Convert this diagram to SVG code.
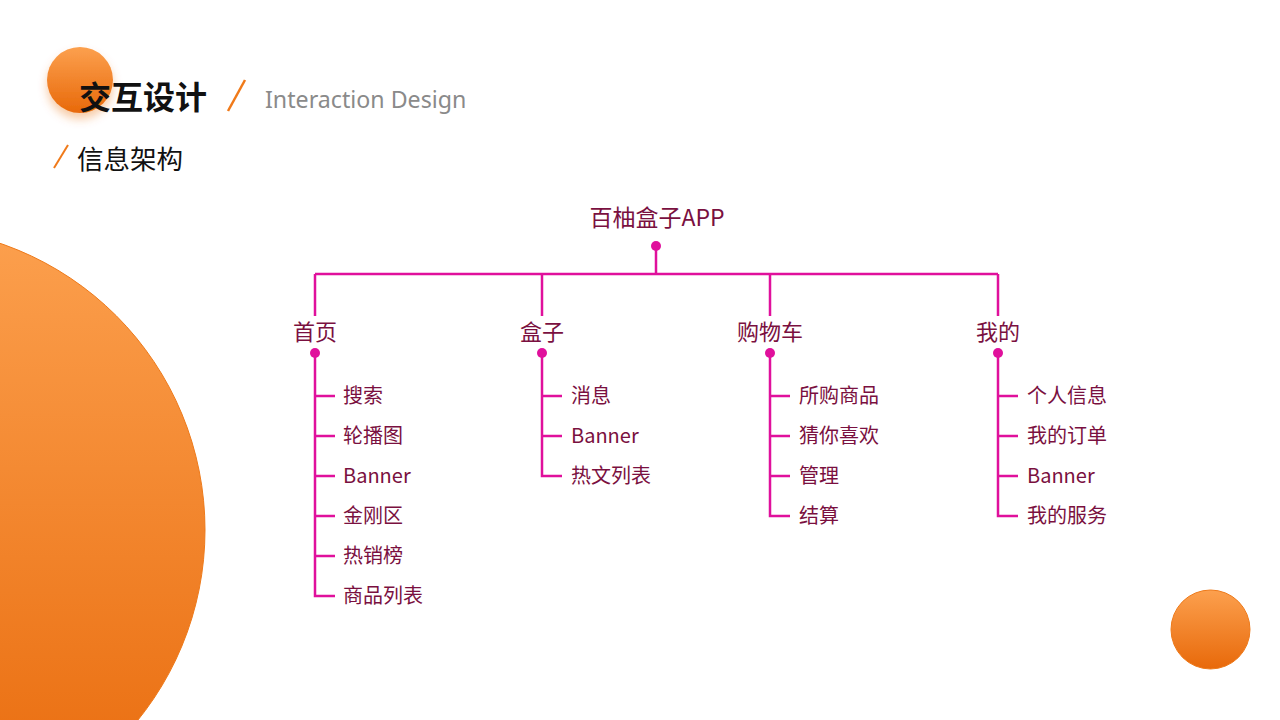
<svg xmlns="http://www.w3.org/2000/svg" width="1280" height="720" viewBox="0 0 1280 720">
<defs>
<linearGradient id="og" x1="0" y1="0" x2="0" y2="1">
<stop offset="0" stop-color="#fca04e"/>
<stop offset="1" stop-color="#e8690a"/>
</linearGradient>
<filter id="sh" x="-50%" y="-50%" width="200%" height="200%">
<feGaussianBlur in="SourceAlpha" stdDeviation="5"/>
<feOffset dx="0" dy="6" result="b"/>
<feFlood flood-color="#e8690a" flood-opacity="0.35"/>
<feComposite in2="b" operator="in"/>
<feMerge><feMergeNode/><feMergeNode in="SourceGraphic"/></feMerge>
</filter>
<style>
.ln{stroke:#e0109c;stroke-width:2.5;fill:none}
.dot{fill:#e0109c}
.t{font-family:"Noto Sans CJK SC","Liberation Sans",sans-serif;fill:#7a1040}
.n{font-size:22px;text-anchor:middle}
.c{font-size:20px}
</style>
</defs>
<rect width="1280" height="720" fill="#ffffff"/>
<circle cx="-98" cy="530" r="303" fill="url(#og)" stroke="#ee7a1a" stroke-width="1"/>
<circle cx="1210.5" cy="629.5" r="39.5" fill="url(#og)" stroke="#ee7a1a" stroke-width="1"/>
<circle cx="80" cy="80" r="33" fill="url(#og)" filter="url(#sh)"/>
<text x="79" y="109" font-family="Noto Sans CJK SC, sans-serif" font-weight="bold" font-size="32" fill="#111">交互设计</text>
<line x1="228" y1="111" x2="245" y2="80" stroke="#f07a1a" stroke-width="2.5"/>
<text x="265" y="108" font-family="Noto Sans, Liberation Sans, sans-serif" font-size="23.2" fill="#8a8a8a">Interaction Design</text>
<line x1="54" y1="168" x2="68" y2="145" stroke="#f07a1a" stroke-width="2"/>
<text x="77" y="169" font-family="Noto Sans CJK SC, sans-serif" font-size="26.5" fill="#111">信息架构</text>
<g id="connectors">
<path class="ln" d="M656 246V274M315 274H998M315 274V316M542 274V316M770 274V316M998 274V316"/>
<path class="ln" d="M315 353V596H335M315 396H335M315 436H335M315 476H335M315 516H335M315 556H335"/>
<path class="ln" d="M542 353V476H562M542 396H562M542 436H562"/>
<path class="ln" d="M770 353V516H790M770 396H790M770 436H790M770 476H790"/>
<path class="ln" d="M998 353V516H1018M998 396H1018M998 436H1018M998 476H1018"/>
</g>
<g id="root"><text class="t" x="657" y="226" font-size="23" text-anchor="middle">百柚盒子APP</text><circle class="dot" cx="656" cy="246" r="5"/></g>
<g id="home"><text class="t n" x="315" y="340">首页</text><circle class="dot" cx="315" cy="353" r="5"/>
<text class="t c" x="343" y="403">搜索</text><text class="t c" x="343" y="443">轮播图</text><text class="t c" x="343" y="483">Banner</text><text class="t c" x="343" y="523">金刚区</text><text class="t c" x="343" y="563">热销榜</text><text class="t c" x="343" y="603">商品列表</text></g>
<g id="box"><text class="t n" x="542" y="340">盒子</text><circle class="dot" cx="542" cy="353" r="5"/>
<text class="t c" x="571" y="403">消息</text><text class="t c" x="571" y="443">Banner</text><text class="t c" x="571" y="483">热文列表</text></g>
<g id="cart"><text class="t n" x="770" y="340">购物车</text><circle class="dot" cx="770" cy="353" r="5"/>
<text class="t c" x="799" y="403">所购商品</text><text class="t c" x="799" y="443">猜你喜欢</text><text class="t c" x="799" y="483">管理</text><text class="t c" x="799" y="523">结算</text></g>
<g id="mine"><text class="t n" x="998" y="340">我的</text><circle class="dot" cx="998" cy="353" r="5"/>
<text class="t c" x="1027" y="403">个人信息</text><text class="t c" x="1027" y="443">我的订单</text><text class="t c" x="1027" y="483">Banner</text><text class="t c" x="1027" y="523">我的服务</text></g>
</svg>
